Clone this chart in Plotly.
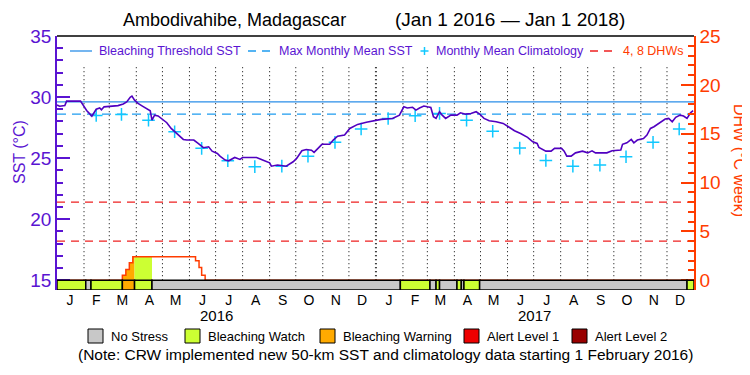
import plotly.graph_objects as go
import pandas as pd

# ---------------- data ----------------
sst_dates = ["2016-01-01","2016-01-04","2016-01-10","2016-01-12","2016-01-28","2016-02-04","2016-02-10","2016-02-15",
 "2016-02-19","2016-02-21","2016-02-24","2016-03-05","2016-03-11","2016-03-17","2016-03-21","2016-03-25","2016-03-27",
 "2016-03-30","2016-04-03","2016-04-08","2016-04-13","2016-04-17","2016-04-19","2016-04-22","2016-04-26","2016-04-30",
 "2016-05-06","2016-05-11","2016-05-17","2016-05-25","2016-05-29","2016-06-06","2016-06-11","2016-06-17","2016-06-23",
 "2016-06-27","2016-07-03","2016-07-06","2016-07-12","2016-07-16","2016-07-23","2016-07-29","2016-08-01","2016-08-17",
 "2016-08-24","2016-09-01","2016-09-03","2016-09-10","2016-09-20","2016-09-28","2016-10-02","2016-10-08","2016-10-13",
 "2016-10-19","2016-10-22","2016-10-31","2016-11-09","2016-11-13","2016-11-18","2016-11-26","2016-12-02","2016-12-11",
 "2016-12-21","2016-12-30","2017-01-07","2017-01-20","2017-01-28","2017-02-02","2017-02-06","2017-02-12","2017-02-16",
 "2017-02-20","2017-02-25","2017-03-01","2017-03-05","2017-03-08","2017-03-11","2017-03-15","2017-03-18","2017-03-22",
 "2017-03-28","2017-04-04","2017-04-08","2017-04-14","2017-04-20","2017-04-26","2017-04-30","2017-05-05","2017-05-11",
 "2017-05-19","2017-05-27","2017-06-02","2017-06-09","2017-06-16","2017-06-24","2017-06-30","2017-07-05","2017-07-07",
 "2017-07-15","2017-07-21","2017-07-25","2017-08-02","2017-08-05","2017-08-08","2017-08-13","2017-08-18","2017-08-26",
 "2017-09-01","2017-09-06","2017-09-10","2017-09-23","2017-09-29","2017-10-09","2017-10-11","2017-10-16","2017-10-21",
 "2017-10-24","2017-10-28","2017-11-04","2017-11-08","2017-11-12","2017-11-16","2017-11-22","2017-11-29","2017-12-03",
 "2017-12-07","2017-12-11","2017-12-16","2017-12-20","2017-12-24","2017-12-28","2017-12-31"]
sst_values = [29.35,29.25,29.30,29.67,29.67,28.90,28.44,29.00,
 29.10,28.95,29.20,29.26,29.30,29.43,29.60,29.98,30.08,
 29.75,29.48,29.26,29.07,28.88,28.11,28.52,28.45,28.25,
 27.90,27.43,27.02,26.53,26.48,26.48,26.20,25.85,25.93,
 25.57,25.38,25.16,24.84,24.78,25.05,24.89,25.05,25.05,
 24.84,24.61,24.34,24.43,24.34,24.70,24.98,25.60,25.71,
 25.65,25.47,26.13,26.13,26.48,26.80,26.89,27.43,27.76,
 27.93,28.03,28.17,28.25,28.52,29.20,29.10,29.16,28.93,
 29.10,29.26,29.20,29.15,28.39,28.25,28.80,28.52,28.25,
 28.52,28.52,28.71,28.60,28.66,28.80,28.61,28.25,28.06,
 27.98,27.84,27.57,27.24,27.02,26.70,26.34,26.20,25.88,
 25.57,25.57,25.80,25.80,25.57,25.16,25.16,25.43,25.57,
 25.43,25.60,25.43,25.43,25.60,25.66,26.13,26.25,26.53,
 26.25,26.48,26.61,26.89,27.43,27.57,27.84,28.20,28.25,
 27.98,28.34,28.52,28.45,28.25,28.71,28.88]

clim_dates = ["2016-02-15","2016-03-15","2016-04-15","2016-05-15","2016-06-15","2016-07-15","2016-08-15",
 "2016-09-15","2016-10-15","2016-11-15","2016-12-15","2017-01-15","2017-02-15","2017-03-15","2017-04-15",
 "2017-05-15","2017-06-15","2017-07-15","2017-08-15","2017-09-15","2017-10-15","2017-11-15","2017-12-15"]
clim_values = [28.50,28.58,28.10,27.16,25.80,24.78,24.30,24.34,25.16,26.29,27.38,28.25,28.47,28.66,28.11,
 27.20,25.82,24.81,24.34,24.43,25.11,26.29,27.38]

mmm = 28.6
bleaching_threshold = 29.6
dhw_levels = [4, 8]

dhw_dates = ["2016-01-01","2016-03-16","2016-03-20","2016-03-24","2016-03-28","2016-06-08","2016-06-12",
 "2016-06-15","2016-06-19","2017-12-31"]
dhw_values = [0, 0.5, 1.1, 1.8, 2.4, 2.0, 1.3, 0.5, 0, 0]

stress_start = ["2016-01-01","2016-02-03","2016-02-09","2016-03-16","2016-03-30","2016-04-19","2017-01-29",
 "2017-03-04","2017-03-11","2017-03-15","2017-04-04","2017-04-09","2017-04-12","2017-04-30","2017-12-24"]
stress_end = ["2016-02-03","2016-02-09","2016-03-16","2016-03-30","2016-04-19","2017-01-29","2017-03-04",
 "2017-03-11","2017-03-15","2017-04-04","2017-04-09","2017-04-12","2017-04-30","2017-12-24","2018-01-01"]
stress_level = ["Bleaching Watch","No Stress","Bleaching Watch","Bleaching Warning","Bleaching Watch","No Stress",
 "Bleaching Watch","No Stress","Bleaching Watch","No Stress","Bleaching Watch","No Stress","Bleaching Watch",
 "No Stress","Bleaching Watch"]

stress_names = ["No Stress","Bleaching Watch","Bleaching Warning","Alert Level 1","Alert Level 2"]
stress_colors = ["#c8c8c8","#ccff33","#ffaa00","#ee0000","#990000"]

month_starts = ["2016-02-01","2016-03-01","2016-04-01","2016-05-01","2016-06-01","2016-07-01","2016-08-01",
 "2016-09-01","2016-10-01","2016-11-01","2016-12-01","2017-01-01","2017-02-01","2017-03-01","2017-04-01",
 "2017-05-01","2017-06-01","2017-07-01","2017-08-01","2017-09-01","2017-10-01","2017-11-01","2017-12-01"]
month_mids = ["2016-01-16","2016-02-15","2016-03-16","2016-04-16","2016-05-16","2016-06-16","2016-07-16",
 "2016-08-16","2016-09-16","2016-10-16","2016-11-16","2016-12-16","2017-01-16","2017-02-15","2017-03-16",
 "2017-04-16","2017-05-16","2017-06-16","2017-07-16","2017-08-16","2017-09-16","2017-10-16","2017-11-16",
 "2017-12-16"]
month_labels = ["J","F","M","A","M","J","J","A","S","O","N","D"] * 2
year_labels = ["2016", "2017"]
year_mids = ["2016-07-02", "2017-07-02"]

# ---------------- styles ----------------
PURPLE = "#5a14d2"
SSTCOL = "#5000c0"
ORANGE = "#ff3c00"
THRESH = "#2a8ee8"
MMMCOL = "#1e9cf0"
CLIM = "#10c8ff"
DHWRED = "#ee2020"
FONT = "Liberation Sans"
X0, X1 = "2016-01-01", "2018-01-01"
YMIN, YMAX = 14.2, 35
Y2MIN, Y2MAX = -1.0, 25

# page geometry (pixels of the 750x375 page); the html body adds an 8px margin
OFF = 8
L, R, T, B = 57, 694, 36, 290
PW, PH = R - L, B - T
def px(x): return (x - L) / PW
def py(y): return (B - y) / PH

fig = go.Figure()

fig.add_trace(go.Scatter(x=[X0, X1], y=[bleaching_threshold]*2, mode="lines",
                         line=dict(color=THRESH, width=1.3), showlegend=False))
fig.add_trace(go.Scatter(x=[X0, X1], y=[mmm]*2, mode="lines",
                         line=dict(color=MMMCOL, width=1.3, dash="9px,6px"), showlegend=False))
fig.add_trace(go.Scatter(x=clim_dates, y=clim_values, mode="markers",
                         marker=dict(symbol="cross-thin", size=9, line=dict(color=CLIM, width=1.5)),
                         showlegend=False))
dx, dy = [], []
for lv in dhw_levels:
    dx += [X0, X1, None]
    dy += [lv, lv, None]
fig.add_trace(go.Scatter(x=dx, y=dy, yaxis="y2", mode="lines",
                         line=dict(color=DHWRED, width=1.3, dash="8px,6px"), showlegend=False))

# DHW fills colored by stress level
dd = pd.to_datetime(dhw_dates)
for s, e, lvl in zip(stress_start, stress_end, stress_level):
    if lvl == "No Stress":
        continue
    s_, e_ = pd.Timestamp(s), pd.Timestamp(e)
    prev = [v for d, v in zip(dd, dhw_values) if d <= s_]
    v0 = prev[-1] if prev else 0
    xs = [s_] + [d for d in dd if s_ < d < e_] + [e_]
    ys = [v0] + [v for d, v in zip(dd, dhw_values) if s_ < d < e_]
    ys = ys + [ys[-1]]
    if max(ys) <= 0:
        continue
    fig.add_trace(go.Scatter(x=xs, y=ys, yaxis="y2", mode="lines", line=dict(width=0, shape="hv"),
                             fill="tozeroy", fillcolor=stress_colors[stress_names.index(lvl)],
                             showlegend=False, hoverinfo="skip"))

fig.add_trace(go.Scatter(x=dhw_dates, y=dhw_values, yaxis="y2", mode="lines",
                         line=dict(color=ORANGE, width=1.5, shape="hv"), showlegend=False))
fig.add_trace(go.Scatter(x=sst_dates, y=sst_values, mode="lines",
                         line=dict(color=SSTCOL, width=1.6), showlegend=False))

shapes = []
for m in month_starts:
    shapes.append(dict(type="line", xref="x", yref="y", x0=m, x1=m, y0=15, y1=32.6,
                       line=dict(color="black", width=2 if m.endswith("01-01") else 1, dash="1px,3px"),
                       layer="below"))
for s, e, lvl in zip(stress_start, stress_end, stress_level):
    shapes.append(dict(type="rect", xref="x", yref="y", x0=s, x1=e, y0=YMIN, y1=15,
                       fillcolor=stress_colors[stress_names.index(lvl)],
                       line=dict(color="black", width=1.5), layer="above"))
shapes.append(dict(type="line", xref="paper", yref="paper", x0=0, x1=1, y0=1, y1=1,
                   line=dict(color="black", width=1.5)))

annotations = []
def txt(text, x, y, size, color, xanchor="left", angle=0):
    annotations.append(dict(text=text, xref="paper", yref="paper", x=px(x), y=py(y),
                            xanchor=xanchor, yanchor="middle", showarrow=False, textangle=angle,
                            font=dict(family=FONT, size=size, color=color)))

# top legend (manual)
LY = 51
shapes.append(dict(type="line", xref="paper", yref="paper", x0=px(70), x1=px(92), y0=py(LY), y1=py(LY),
                   line=dict(color=THRESH, width=1.3)))
txt("Bleaching Threshold SST", 97, LY, 12.5, PURPLE)
shapes.append(dict(type="line", xref="paper", yref="paper", x0=px(248), x1=px(272), y0=py(LY), y1=py(LY),
                   line=dict(color=MMMCOL, width=1.3, dash="8px,6px")))
txt("Max Monthly Mean SST", 277, LY, 12.5, PURPLE)
shapes.append(dict(type="line", xref="paper", yref="paper", x0=px(420.5), x1=px(428.5), y0=py(LY), y1=py(LY),
                   line=dict(color=CLIM, width=1.5)))
shapes.append(dict(type="line", xref="paper", yref="paper", x0=px(424.5), x1=px(424.5), y0=py(LY-4), y1=py(LY+4),
                   line=dict(color=CLIM, width=1.5)))
txt("Monthly Mean Climatology", 434, LY, 12.5, PURPLE)
shapes.append(dict(type="line", xref="paper", yref="paper", x0=px(590), x1=px(615), y0=py(LY), y1=py(LY),
                   line=dict(color=DHWRED, width=1.3, dash="8px,6px")))
txt("4, 8 DHWs", 621, LY, 12.5, ORANGE)

# titles
txt("Ambodivahibe, Madagascar", 234, 20, 18, "black", "center")
txt("(Jan 1 2016 \u2014 Jan 1 2018)", 510, 20, 19, "black", "center")
txt("SST (\u00b0C)", 19, 152, 16, PURPLE, "center", -90)
txt("DHW (\u00b0C week)", 740, 160, 16, ORANGE, "center", 90)
for yl, ym in zip(year_labels, year_mids):
    annotations.append(dict(text=yl, xref="x", yref="paper", x=ym, y=py(315),
                            xanchor="center", yanchor="middle", showarrow=False,
                            font=dict(family=FONT, size=15, color="black")))

# bottom stress legend (manual)
box_x = [88, 185, 320, 464, 572]
for nm, c, bx in zip(stress_names, stress_colors, box_x):
    shapes.append(dict(type="rect", xref="paper", yref="paper", x0=px(bx), x1=px(bx + 15),
                       y0=py(343), y1=py(329), fillcolor=c, line=dict(color="black", width=1)))
    txt(nm, bx + 21, 336, 13, "black")
txt("(Note: CRW implemented new 50-km SST and climatology data starting 1 February 2016)",
    385, 354, 15.5, "black", "center")

fig.update_layout(
    width=750 - OFF, height=375 - OFF,
    margin=dict(l=L - OFF, r=750 - R, t=T - OFF, b=375 - B, autoexpand=False),
    paper_bgcolor="white", plot_bgcolor="white",
    font=dict(family=FONT, color=PURPLE),
    showlegend=False,
    xaxis=dict(type="date", range=[X0, X1], tickvals=month_mids, ticktext=month_labels,
               showgrid=False, zeroline=False, showline=False, ticks="", automargin=False,
               tickfont=dict(family=FONT, size=14, color="black")),
    yaxis=dict(range=[YMIN, YMAX], tickvals=[15, 20, 25, 30, 35], showgrid=False, zeroline=False,
               showline=True, linecolor=PURPLE, linewidth=1.5, ticks="inside", ticklen=13,
               tickwidth=1.5, tickcolor=PURPLE, automargin=False,
               minor=dict(ticks="inside", ticklen=6, tickwidth=1.5, tickcolor=PURPLE,
                          tickvals=list(range(15, 36))),
               tickfont=dict(family=FONT, size=19, color=PURPLE)),
    yaxis2=dict(range=[Y2MIN, Y2MAX], overlaying="y", side="right", tickvals=[0, 5, 10, 15, 20, 25],
                showgrid=False, zeroline=False, showline=True, linecolor=ORANGE, linewidth=1.5,
                ticks="inside", ticklen=13, tickwidth=1.5, tickcolor=ORANGE, automargin=False,
                minor=dict(ticks="inside", ticklen=6, tickwidth=1.5, tickcolor=ORANGE,
                           tickvals=list(range(0, 26))),
                tickfont=dict(family=FONT, size=19, color=ORANGE)),
    shapes=shapes, annotations=annotations,
)

fig.write_html("out.html")
